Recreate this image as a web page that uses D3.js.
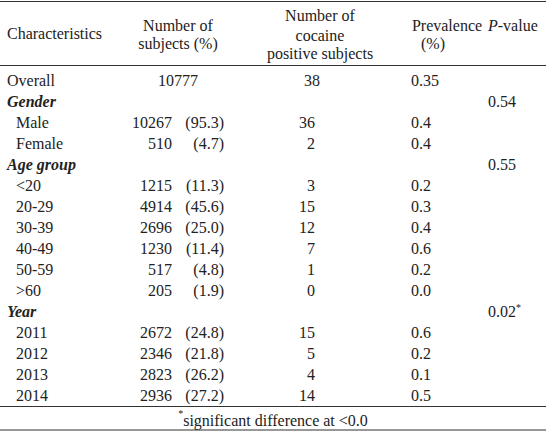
<!DOCTYPE html>
<html><head><meta charset="utf-8">
<script src="https://cdn.jsdelivr.net/npm/d3@7"></script>
<style>body{margin:0;background:#fff} text{font-family:"Liberation Serif","Times New Roman","DejaVu Serif",serif;font-size:16px;fill:#222}</style></head>
<body><svg id="c" width="546" height="431"></svg>
<script>
const labels=["Overall","Gender","Male","Female","Age group","<20","20-29","30-39","40-49","50-59",">60","Year","2011","2012","2013","2014"];
const isGroup=[false,true,false,false,true,false,false,false,false,false,false,true,false,false,false,false];
const counts=["10777","","10267","510","","1215","4914","2696","1230","517","205","","2672","2346","2823","2936"];
const pcts=["","","(95.3)","(4.7)","","(11.3)","(45.6)","(25.0)","(11.4)","(4.8)","(1.9)","","(24.8)","(21.8)","(26.2)","(27.2)"];
const positives=["38","","36","2","","3","15","12","7","1","0","","15","5","4","14"];
const prevalence=["0.35","","0.4","0.4","","0.2","0.3","0.4","0.6","0.2","0.0","","0.6","0.2","0.1","0.5"];
const pvalues=["","0.54","","","0.55","","","","","","","0.02*","","","",""];
const svg=d3.select("#c");
const y=d3.scaleLinear().domain([0,15]).range([80,395]);
const g=svg.append("g");
const line=(yy)=>svg.append("line").attr("x1",0).attr("x2",546).attr("y1",yy).attr("y2",yy).attr("stroke","#333").attr("stroke-width",1.2);
[1.5,65.5,406.5,430].forEach(line);
function t(x,yy,s,anchor,opts={}){const e=g.append("text").attr("x",x).attr("y",yy).attr("dy","0.35em").attr("text-anchor",anchor||"start").text(s);
 if(opts.italic)e.style("font-style","italic");if(opts.bold)e.style("font-weight","bold");return e;}
t(7,33,"Characteristics");
t(178,25,"Number of","middle");t(178,43,"subjects (%)","middle");
t(320,15,"Number of","middle");t(320,35,"cocaine","middle");t(320,53,"positive subjects","middle");
t(447,25,"Prevalence","middle");t(433,43,"(%)","middle");
const ph=t(488,25,"");ph.append("tspan").style("font-style","italic").text("P");ph.append("tspan").text("-value");
labels.forEach((l,i)=>{
 const yy=y(i);
 t(isGroup[i]||i===0?7:16,yy,l,"start",{italic:isGroup[i],bold:isGroup[i]});
 if(i===0)t(178,yy,counts[i],"middle");
 else if(counts[i]){t(172,yy,counts[i],"end");t(224,yy,pcts[i],"end");}
 if(positives[i]){if(i===0)t(312,yy,positives[i],"middle");else t(315,yy,positives[i],"end");}
 if(prevalence[i])t(411,yy,prevalence[i]);
 if(pvalues[i]){const v=pvalues[i];const e=t(488,yy,v.replace("*",""));if(v.includes("*"))e.append("tspan").style("font-size","10px").attr("dy","-0.6em").text("*");}
});
const fn=t(273,419,"","middle");fn.append("tspan").style("font-size","10px").attr("dy","-0.25em").text("*");fn.append("tspan").attr("dy","0.6em").text("significant difference at <0.0");
</script></body></html>
